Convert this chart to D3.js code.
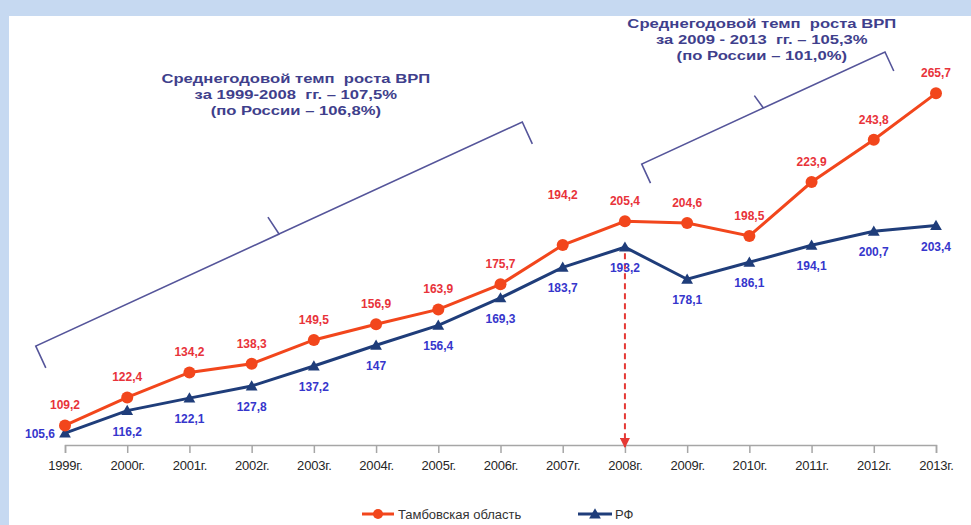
<!DOCTYPE html>
<html>
<head>
<meta charset="utf-8">
<script src="https://cdn.jsdelivr.net/npm/d3@7"></script>
<style>
  body { margin: 0; background: #c6d9f1; }
  svg { display: block; font-family: "Liberation Sans", Arial, sans-serif; }
</style>
</head>
<body>
<svg></svg>
<script>
// chart data
const years = ['1999г.', '2000г.', '2001г.', '2002г.', '2003г.', '2004г.', '2005г.',
  '2006г.', '2007г.', '2008г.', '2009г.', '2010г.', '2011г.', '2012г.', '2013г.'];
const tambov = [109.2, 122.4, 134.2, 138.3, 149.5, 156.9, 163.9, 175.7, 194.2, 205.4, 204.6, 198.5, 223.9, 243.8, 265.7];
const rf = [105.6, 116.2, 122.1, 127.8, 137.2, 147, 156.4, 169.3, 183.7, 193.2, 178.1, 186.1, 194.1, 200.7, 203.4];
const seriesNames = ['Тамбовская область', 'РФ'];
const noteLeft = ['Среднегодовой темп  роста ВРП', 'за 1999-2008  гг. – 107,5%', '(по России – 106,8%)'];
const noteRight = ['Среднегодовой темп  роста ВРП', 'за 2009 - 2013  гг. – 105,3%', '(по России – 101,0%)'];

const size = {w: 971, h: 525};
const red = '#f2461c', redText = '#e8333a';
const navy = '#1f3d7a', blueText = '#3636cc';
const noteColor = '#3f3f8c';

const svg = d3.select('svg').attr('width', size.w).attr('height', size.h);

// white panel over the light blue slide
svg.append('rect').attr('width', size.w).attr('height', size.h).attr('fill', '#c6d9f1');
svg.append('rect').attr('x', 9).attr('y', 16).attr('width', size.w - 9).attr('height', size.h - 16).attr('fill', '#fff');

const x = d3.scalePoint().domain(years).range([65, 936]);
const y = d3.scaleLinear().domain([100, 280]).range([445, 63]);
const xAt = i => x(years[0]) + i * x.step();

const fmt = v => String(v).replace('.', ',');

// axis along the bottom
const axis = svg.append('g').attr('transform', `translate(0,${y(100)})`)
  .call(d3.axisBottom(x).tickSize(8).tickPadding(8));
axis.select('.domain').attr('stroke', '#a6a6a6').attr('stroke-width', 1.5);
axis.selectAll('.tick line').attr('stroke', '#a6a6a6').attr('stroke-width', 1.5);
axis.selectAll('.tick text').attr('font-size', 13).attr('fill', '#262626')
  .attr('letter-spacing', -0.2).attr('font-family', '"Liberation Sans", Arial, sans-serif');

// dashed marker at 2008
const defs = svg.append('defs');
defs.append('marker').attr('id', 'arr').attr('viewBox', '0 0 10 10')
  .attr('refX', 9).attr('refY', 5).attr('markerWidth', 5).attr('markerHeight', 5)
  .attr('orient', 'auto')
  .append('path').attr('d', 'M0,0L10,5L0,10z').attr('fill', '#e53935');
svg.append('line')
  .attr('x1', x('2008г.')).attr('x2', x('2008г.'))
  .attr('y1', y(rf[9]) + 6).attr('y2', y(100) + 2)
  .attr('stroke', '#e53935').attr('stroke-width', 2).attr('stroke-dasharray', '6,4')
  .attr('marker-end', 'url(#arr)');

// braces
function brace(a, b, tip, hook) {
  const dx = b[0] - a[0], dy = b[1] - a[1], len = Math.hypot(dx, dy);
  const u = [dx / len, dy / len];
  const n = [u[1], -u[0]]; // points up-left
  const m = [(a[0] + b[0]) / 2, (a[1] + b[1]) / 2];
  const pts = [
    [a[0] - n[0] * hook, a[1] - n[1] * hook], a, m,
    [m[0] + n[0] * tip - u[0] * 3, m[1] + n[1] * tip - u[1] * 3], m, b,
    [b[0] - n[0] * hook, b[1] - n[1] * hook]
  ];
  svg.append('path').attr('d', d3.line()(pts))
    .attr('fill', 'none').attr('stroke', '#55559a').attr('stroke-width', 1.6);
}
brace([xAt(-0.47), y(146.6)], [xAt(7.35), y(252.2)], 20, 24);
brace([xAt(9.27), y(232.4)], [xAt(13.18), y(285.2)], 15, 21);

function note(lines, cx, y0, w) {
  const g = svg.append('g');
  const t = g.selectAll('text').data(lines).join('text')
    .attr('y', (d, i) => y0 + i * 16)
    .attr('text-anchor', 'middle').attr('font-size', 12).attr('font-weight', 'bold')
    .attr('fill', noteColor).style('white-space', 'pre')
    .text(d => d);
  const k = w / t.node().getComputedTextLength();
  g.attr('transform', `translate(${cx},0) scale(${k},1)`);
}
note(noteLeft, xAt(3.71), 83, 269);
note(noteRight, xAt(11.2), 28, 269);

// lines
const line = d3.line().x((d, i) => x(years[i])).y(d => y(d));
svg.append('path').datum(rf).attr('d', line)
  .attr('fill', 'none').attr('stroke', navy).attr('stroke-width', 3);
svg.append('path').datum(tambov).attr('d', line)
  .attr('fill', 'none').attr('stroke', red).attr('stroke-width', 3);

const tri = d3.symbol().type(d3.symbolTriangle).size(60);
svg.append('g').selectAll('path').data(rf).join('path')
  .attr('d', tri)
  .attr('transform', (d, i) => `translate(${x(years[i])},${y(d) + 1})`)
  .attr('fill', navy);
svg.append('g').selectAll('circle').data(tambov).join('circle')
  .attr('cx', (d, i) => x(years[i])).attr('cy', d => y(d)).attr('r', 6)
  .attr('fill', red);

// value labels
const redNudge = {'2007г.': -30};
svg.append('g').selectAll('text').data(tambov).join('text')
  .attr('x', (d, i) => x(years[i]))
  .attr('y', (d, i) => y(d) - 16 + (redNudge[years[i]] || 0))
  .attr('text-anchor', 'middle').attr('font-size', 12).attr('font-weight', 'bold')
  .attr('fill', redText)
  .text(fmt);
svg.append('g').selectAll('text').data(rf).join('text')
  .attr('x', (d, i) => i === 0 ? x(years[i]) - 10 : x(years[i]))
  .attr('y', (d, i) => i === 0 ? y(d) + 5 : y(d) + 25)
  .attr('text-anchor', (d, i) => i === 0 ? 'end' : 'middle')
  .attr('font-size', 12).attr('font-weight', 'bold').attr('fill', blueText)
  .text(fmt);

// legend
const leg = svg.append('g').attr('transform', 'translate(0,514)');
leg.append('line').attr('x1', 362).attr('x2', 394).attr('stroke', red).attr('stroke-width', 3);
leg.append('circle').attr('cx', 378).attr('r', 5).attr('fill', red);
leg.append('text').attr('x', 398).attr('y', 5).attr('font-size', 13).attr('fill', '#333')
  .text(seriesNames[0]);
leg.append('line').attr('x1', 578).attr('x2', 612).attr('stroke', navy).attr('stroke-width', 3);
leg.append('path').attr('d', tri).attr('transform', 'translate(595,1)').attr('fill', navy);
leg.append('text').attr('x', 615).attr('y', 5).attr('font-size', 13).attr('fill', '#333')
  .text(seriesNames[1]);
</script>
</body>
</html>
